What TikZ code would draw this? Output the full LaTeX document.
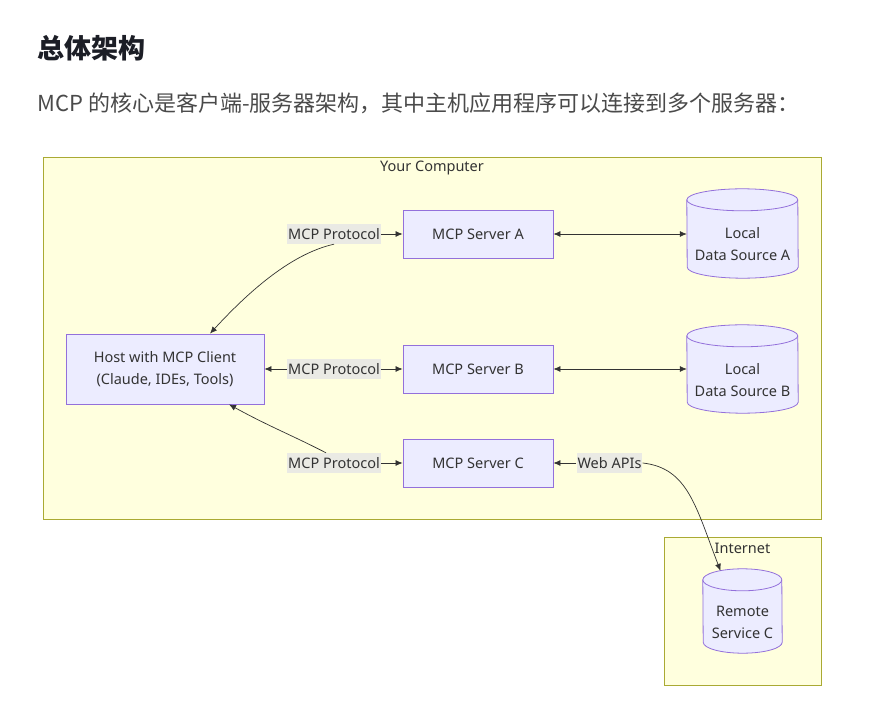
\documentclass[tikz,border=0pt]{standalone}
\usepackage{fontspec}
\setmainfont{Noto Sans}
\newfontfamily\cjk{Noto Sans CJK SC}
\usetikzlibrary{arrows.meta,backgrounds}
\definecolor{nodefill}{HTML}{ECECFF}
\definecolor{nodeline}{HTML}{9370DB}
\definecolor{clusterfill}{HTML}{FFFFDE}
\definecolor{clusterline}{HTML}{AAAA33}
\definecolor{labelfill}{RGB}{234,234,228}
\definecolor{ink}{HTML}{333333}
\definecolor{titleink}{HTML}{1C1E26}
\definecolor{introink}{HTML}{4A4A4A}

\begin{document}
\begin{tikzpicture}
[x=1pt,y=-1pt,
  every node/.style={text=ink,font=\fontsize{14.5}{22}\selectfont,align=center},
  cluster/.style={draw=clusterline,fill=clusterfill,line width=0.8pt},
  proc/.style={draw=nodeline,fill=nodefill,line width=0.8pt,
    minimum width=150pt,minimum height=48pt,inner sep=0pt},
  db/.style={inner sep=0pt},
  dbbody/.style={draw=nodeline,fill=nodefill,line width=0.8pt},
  dbline/.style={draw=nodeline,line width=0.8pt},
  tag/.style={fill=labelfill,inner xsep=1pt,inner ysep=0pt,minimum height=20pt},
  link/.style={draw=ink,line width=0.7pt,-{Latex[length=7pt,width=6pt]}},
  biglink/.style={link,{Latex[length=7pt,width=6pt]}-{Latex[length=7pt,width=6pt]}}]
\useasboundingbox (0,0) rectangle (876,711);
\node[anchor=west,font=\cjk\bfseries\fontsize{27}{32}\selectfont,text=titleink] (title) at (34,48) {总体架构};
\node[anchor=west,font=\cjk\fontsize{22}{26}\selectfont,text=introink] (intro) at (34,103)
  {MCP 的核心是客户端-服务器架构，其中主机应用程序可以连接到多个服务器：};

\node[proc,minimum width=198pt,minimum height=70pt] (host) at (165,369) {Host with MCP Client\\(Claude, IDEs, Tools)};
\node[proc] (srvA) at (478,234) {MCP Server A};
\node[proc] (srvB) at (478,369) {MCP Server B};
\node[proc] (srvC) at (478,463) {MCP Server C};
\node[tag] (tagA) at (334,234) {MCP Protocol};
\node[tag] (tagB) at (334,369) {MCP Protocol};
\node[tag] (tagC) at (334,463) {MCP Protocol};
\node[tag] (tagWeb) at (609.5,463) {Web APIs};
\node[db,minimum width=111pt,minimum height=67pt] (srcA) at (742.5,244.5) {Local\\Data Source A};
\node[db,minimum width=111pt,minimum height=66pt] (srcB) at (742.5,380) {Local\\Data Source B};
\node[db,minimum width=79pt,minimum height=62pt] (remC) at (742.5,622) {Remote\\Service C};

\begin{scope}[on background layer]
\node[cluster,minimum width=778pt,minimum height=362pt] (pc) at (432,338) {};
\node (pctitle) at (432,168) {Your Computer};
\node[cluster,minimum width=157pt,minimum height=148pt] (net) at (742.5,611) {};
\node (nettitle) at (742.5,548) {Internet};
\foreach \n/\r in {srcA/55.5,srcB/55.5,remC/39.5}{
  \path[dbbody] ([yshift=11pt]\n.north west) arc[start angle=180,end angle=0,x radius=\r pt,y radius=11pt]
    -- ([yshift=11pt]\n.south east) arc[start angle=0,end angle=-180,x radius=\r pt,y radius=11pt] -- cycle;
  \draw[dbline] ([yshift=11pt]\n.north west) arc[start angle=180,end angle=360,x radius=\r pt,y radius=11pt];
}
\end{scope}

\draw[link] (tagA.east) -- (srvA.west);
\draw[link] (tagA.south) .. controls +(-45,10) and +(35,-38) .. ([xshift=45pt]host.north);
\draw[link] (tagB.west) -- (host.east);
\draw[link] (tagB.east) -- (srvB.west);
\draw[link] ([xshift=-8pt]tagC.north) .. controls +(-35,-18) and +(40,22) .. ([xshift=64pt]host.south);
\draw[link] (tagC.east) -- (srvC.west);
\draw[biglink] (srvA.east) -- (srvA.east -| srcA.west);
\draw[biglink] (srvB.east) -- (srvB.east -| srcB.west);
\draw[link] (tagWeb.west) -- (srvC.east);
\draw[link] (tagWeb.east) .. controls +(45,5) and +(-25,-65) .. ([shift={(-22pt,20pt)}]remC.north);
\end{tikzpicture}
\end{document}
